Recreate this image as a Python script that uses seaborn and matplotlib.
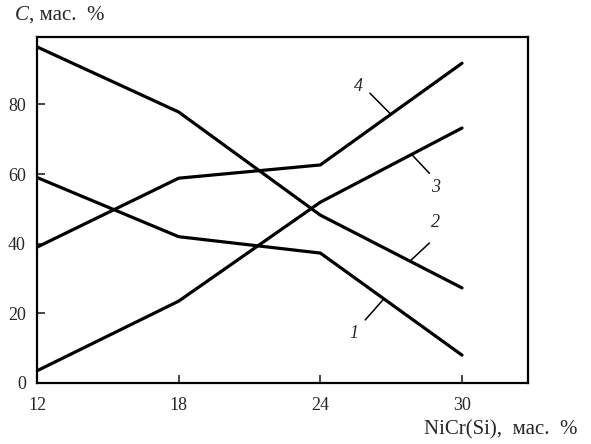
import matplotlib
matplotlib.use("Agg")
import matplotlib.pyplot as plt
import seaborn as sns
import pandas as pd

sns.set_style("white")
plt.rcParams['font.family'] = ['Liberation Serif', 'DejaVu Serif']

x_vals = [12, 18, 24, 30]
curve4 = [39, 58.8, 62.6, 91.8]
curve3 = [3.5, 23.5, 51.9, 73.2]
curve2 = [96.5, 77.8, 48.2, 27.3]
curve1 = [59, 42, 37.3, 8]
x_ticks = [12, 18, 24, 30]
y_ticks = [0, 20, 40, 60, 80]

rows = []
for name, ys in [("4", curve4), ("3", curve3), ("2", curve2), ("1", curve1)]:
    for xv, yv in zip(x_vals, ys):
        rows.append({"x": xv, "y": yv, "curve": name})
df = pd.DataFrame(rows)

fig = plt.figure(figsize=(5.91, 4.44), dpi=100)
ax = fig.add_axes([0.0626, 0.1374, 0.831, 0.779])
sns.lineplot(data=df, x="x", y="y", units="curve", estimator=None,
             color="black", lw=2.3, ax=ax, legend=False)

ax.set_xlim(12, 32.8)
ax.set_ylim(0, 99.3)
ax.set_xticks(x_ticks)
ax.set_yticks(y_ticks)
ax.set_xlabel("")
ax.set_ylabel("")
ax.tick_params(direction="in", length=5.5, width=1.2, labelsize=13,
               bottom=True, left=True, top=False, right=False)
ax.tick_params(axis="x", pad=10)
ax.tick_params(axis="y", pad=8)
for s in ax.spines.values():
    s.set_linewidth(1.6)
    s.set_color("black")

# curve labels with leader lines
def lab(txt, tx, ty, x0, y0, x1, y1):
    ax.plot([x0, x1], [y0, y1], color="black", lw=1.1)
    ax.text(tx, ty, txt, fontsize=13, style="italic", ha="center", va="center")

lab("4", 25.6, 85.0, 26.1, 83.2, 26.95, 77.4)
lab("3", 28.86, 56.2, 27.87, 65.6, 28.62, 60.2)
lab("2", 28.86, 46.2, 28.62, 40.2, 27.8, 35.0)
lab("1", 25.4, 14.3, 25.9, 18.1, 26.67, 24.0)

fig.text(0.025, 0.966, "C", fontsize=15, style="italic", ha="left", va="center")
fig.text(0.049, 0.966, ", мас.  %", fontsize=15, ha="left", va="center")
fig.text(0.978, 0.032, "NiCr(Si),  мас.  %", fontsize=15, ha="right", va="center")

fig.savefig("out.png", dpi=100)
